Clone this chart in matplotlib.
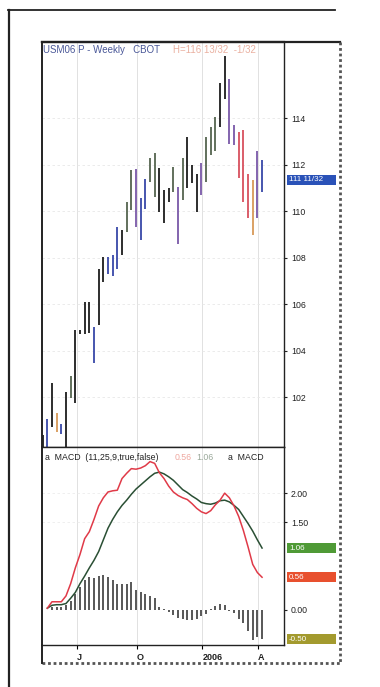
import matplotlib
matplotlib.use("Agg")
import matplotlib.pyplot as plt
from matplotlib.lines import Line2D
from matplotlib.patches import Rectangle
import matplotlib.transforms as mtransforms
import numpy as np

plt.rcParams['font.family'] = ['Liberation Sans', 'DejaVu Sans']

# weekly bars, first bar ~ mid May 2005
highs = [100.35, 101.05, 102.6, 101.3, 100.85, 102.2, 102.9, 104.9, 104.9, 106.1,
         106.1, 105.0, 107.5, 108.03, 108.03, 108.1, 109.3, 109.2, 110.4, 111.76,
         111.8, 110.55, 111.36, 112.27, 112.48, 111.84, 110.9, 110.97, 111.9, 111.05,
         112.3, 113.2, 112.0, 111.6, 112.08, 113.2, 113.6, 114.03, 115.5, 116.67,
         115.7, 113.7, 113.4, 113.5, 111.6, 111.33, 112.6, 112.2]
lows = [99.0, 99.5, 100.7, 100.5, 100.4, 99.5, 101.95, 101.75, 104.7, 104.7,
        104.75, 103.45, 105.1, 106.96, 107.3, 107.2, 107.5, 108.1, 109.1, 110.04,
        109.3, 108.75, 110.1, 111.26, 110.6, 109.97, 109.47, 110.4, 110.83, 108.6,
        110.47, 110.97, 111.2, 109.97, 110.7, 111.26, 112.4, 112.6, 113.6, 114.8,
        112.9, 112.85, 111.4, 110.4, 109.7, 108.97, 109.7, 110.8]
# bar state code: k, g, b, p, r, o
bar_state = ['k', 'b', 'k', 'o', 'b', 'k', 'g', 'k', 'k', 'k',
             'k', 'b', 'k', 'k', 'b', 'b', 'b', 'k', 'g', 'g',
             'p', 'b', 'b', 'g', 'g', 'k', 'k', 'k', 'g', 'p',
             'g', 'k', 'k', 'k', 'p', 'g', 'g', 'g', 'k', 'k',
             'p', 'p', 'r', 'r', 'r', 'o', 'p', 'b']

last_price = 111.34
last_label = "111 11/32"

# MACD (11,25,9) from week 1
macd_line = [0.03, 0.14, 0.14, 0.14, 0.24, 0.45, 0.72, 0.95, 1.22, 1.34,
             1.55, 1.78, 1.92, 2.02, 2.04, 2.05, 2.25, 2.34, 2.42, 2.41,
             2.43, 2.47, 2.54, 2.51, 2.35, 2.25, 2.12, 2.02, 1.96, 1.92,
             1.89, 1.82, 1.74, 1.68, 1.65, 1.70, 1.80, 1.88, 2.00, 1.92,
             1.78, 1.60, 1.36, 1.08, 0.78, 0.64, 0.56]
signal_line = [0.03, 0.08, 0.09, 0.09, 0.11, 0.20, 0.30, 0.45, 0.58, 0.72,
               0.85, 1.00, 1.20, 1.40, 1.55, 1.68, 1.79, 1.88, 1.98, 2.07,
               2.14, 2.21, 2.28, 2.34, 2.36, 2.33, 2.28, 2.22, 2.14, 2.06,
               2.01, 1.95, 1.90, 1.84, 1.82, 1.81, 1.83, 1.87, 1.88, 1.85,
               1.79, 1.72, 1.60, 1.48, 1.35, 1.20, 1.06]
histogram = [0.0, 0.05, 0.05, 0.05, 0.08, 0.15, 0.28, 0.40, 0.52, 0.56,
             0.54, 0.58, 0.60, 0.57, 0.52, 0.45, 0.44, 0.44, 0.48, 0.35,
             0.30, 0.27, 0.24, 0.20, 0.05, 0.02, -0.03, -0.08, -0.13, -0.16,
             -0.17, -0.17, -0.15, -0.10, -0.07, 0.02, 0.06, 0.10, 0.08, -0.02,
             -0.06, -0.15, -0.22, -0.36, -0.52, -0.46, -0.50]

price_ticks = [102, 104, 106, 108, 110, 112, 114]
macd_ticks = [0.0, 1.5, 2.0]
date_ticks = [7.3, 20.2, 34.2, 46.1]
date_labels = ["J", "O", "2006", "A"]

state_colors = {'k': '#1c1c1c', 'g': '#55654f', 'b': '#3848a8',
                'p': '#7a58a8', 'r': '#d8505e', 'o': '#d89a58'}

W, H = 380, 687
fig = plt.figure(figsize=(W / 100, H / 100), dpi=100)


def fx(x):
    return x / W


def fy(y):
    return 1 - y / H


L, R = 41.7, 284
ax = fig.add_axes([fx(L), fy(447), fx(R) - fx(L), fy(42) - fy(447)])
ax2 = fig.add_axes([fx(L), fy(645), fx(R) - fx(L), fy(447) - fy(645)])

xs = np.arange(len(highs))
ax.vlines(xs, lows, highs, colors=[state_colors[s] for s in bar_state], lw=1.3)
ax.set_xlim(-0.2, 51.7)
ax.set_ylim(99.85, 117.27)

mx = np.arange(1, len(macd_line) + 1)
ax2.vlines(mx, 0, histogram, colors='#2a2a2a', lw=1.1)
ax2.plot(mx, signal_line, color='#2a4f34', lw=1.1)
ax2.plot(mx, macd_line, color='#e03a48', lw=1.1)
ax2.set_xlim(-0.2, 51.7)
ax2.set_ylim(-0.6, 2.79)

for a in (ax, ax2):
    for x in date_ticks:
        a.axvline(x, color='#dcdcdc', lw=0.6, zorder=0)
    for s in a.spines.values():
        s.set_color('#222222')
        s.set_linewidth(1.0)
    a.spines['left'].set_linewidth(1.4)
    a.yaxis.tick_right()
    a.tick_params(axis='y', direction='out', length=2.5, width=0.8, pad=2.5,
                  labelsize=6.3, colors='#222222')
ax.spines['top'].set_linewidth(1.6)

for p in price_ticks:
    ax.axhline(p, color='#e8e8e8', lw=0.6, ls=(0, (3, 3)), zorder=0)
for v in [1.5, 2.0]:
    ax2.axhline(v, color='#ececec', lw=0.6, ls=(0, (3, 3)), zorder=0)

ax.set_xticks([])
ax.set_yticks(price_ticks)
ax.set_yticklabels([str(p) for p in price_ticks])
ax2.set_yticks(macd_ticks)
ax2.set_yticklabels(["%.2f" % v for v in macd_ticks])

ax2.set_xticks(date_ticks)
ax2.set_xticklabels(date_labels, fontsize=6.5, fontweight='bold', color='#222222')
ax2.tick_params(axis='x', direction='out', length=3, width=0.8, pad=3)
for lab in ax2.get_xticklabels():
    lab.set_ha('left')


def value_box(a, value, text, color, px_per_unit):
    tr = mtransforms.blended_transform_factory(a.transAxes, a.transData)
    axw = R - L
    h = 10 / px_per_unit
    a.add_patch(Rectangle((1 + 2.5 / axw, value - h / 2), 49 / axw, h,
                          transform=tr, facecolor=color, edgecolor='none',
                          clip_on=False, zorder=5))
    a.text(1 + 5 / axw, value, text, transform=tr, color='white', fontsize=5.8,
           va='center', ha='left', clip_on=False, zorder=6)


value_box(ax, last_price, last_label, '#2a52b8', 23.25)
value_box(ax2, macd_line[-1], "0.56", '#e8502e', 58.5)
value_box(ax2, signal_line[-1], "1.06", '#4f9a36', 58.5)
value_box(ax2, histogram[-1], "-0.50", '#a39a2e', 58.5)

# headers
fig.text(fx(43), fy(50), "USM06 P - Weekly   CBOT", fontsize=7, color='#4a5898',
         va='center', ha='left')
fig.text(fx(173), fy(50), "H=116 13/32  -1/32", fontsize=7, color='#eab0a0',
         va='center', ha='left')
fig.text(fx(45), fy(457), "a  MACD  (11,25,9,true,false)", fontsize=6.3,
         color='#222222', va='center', ha='left')
fig.text(fx(175), fy(457), "0.56", fontsize=6.3, color='#efa8a0', va='center', ha='left')
fig.text(fx(196), fy(457), "1.06", fontsize=6.3, color='#9aa89a', va='center', ha='left')
fig.text(fx(228), fy(457), "a  MACD", fontsize=6.3, color='#222222', va='center', ha='left')

# outer chart frame and page border
dark = '#222222'
fig.add_artist(Line2D([fx(L), fx(340)], [fy(42), fy(42)], color=dark, lw=1.6))
fig.add_artist(Line2D([fx(340), fx(340)], [fy(42), fy(663)], color='#555555',
                      lw=2.0, ls=(0, (1, 1))))
fig.add_artist(Line2D([fx(L), fx(340)], [fy(663), fy(663)], color='#555555',
                      lw=2.0, ls=(0, (1, 1))))
fig.add_artist(Line2D([fx(L), fx(L)], [fy(645), fy(663)], color=dark, lw=1.4))
fig.add_artist(Line2D([fx(8), fx(335)], [fy(10), fy(10)], color=dark, lw=1.3))
fig.add_artist(Line2D([fx(9), fx(9)], [fy(10), fy(687)], color=dark, lw=1.6))

fig.savefig("out.png", dpi=100)
